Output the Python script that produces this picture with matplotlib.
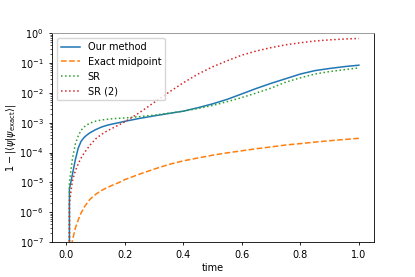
import numpy as np
import matplotlib
matplotlib.use("Agg")
import matplotlib.pyplot as plt

# values
time = [0, 0.01, 0.02, 0.03, 0.04, 0.05, 0.06, 0.07, 0.08, 0.1, 0.12, 0.14, 0.16, 0.18,
        0.2, 0.25, 0.3, 0.35, 0.4, 0.45, 0.5, 0.55, 0.6, 0.65, 0.7, 0.75, 0.8, 0.85,
        0.9, 0.95, 1.0]

our_method = [0, 6e-6, 1.8e-5, 5.6e-5, 1.4e-4, 2.4e-4, 3.2e-4, 3.9e-4, 4.6e-4, 5.9e-4,
              7.2e-4, 8.3e-4, 9.2e-4, 1.01e-3, 1.12e-3, 1.4e-3, 1.7e-3, 2.05e-3, 2.45e-3,
              3.2e-3, 4.3e-3, 6.1e-3, 9.3e-3, 1.42e-2, 2.1e-2, 3.0e-2, 4.3e-2, 5.6e-2,
              6.6e-2, 7.6e-2, 8.5e-2]

exact_midpoint = [0, 2e-8, 1.1e-7, 2.9e-7, 5.5e-7, 9.5e-7, 1.45e-6, 2.0e-6, 2.7e-6, 4.0e-6,
                  5.4e-6, 6.8e-6, 8.3e-6, 1.0e-5, 1.25e-5, 1.9e-5, 2.8e-5, 4e-5, 5.3e-5,
                  6.6e-5, 8.2e-5, 9.8e-5, 1.15e-4, 1.35e-4, 1.55e-4, 1.8e-4, 2.0e-4,
                  2.25e-4, 2.5e-4, 2.75e-4, 3.0e-4]

sr = [0, 1e-5, 6e-5, 1.9e-4, 3.6e-4, 5.6e-4, 7.2e-4, 8.5e-4, 9.7e-4, 1.13e-3, 1.24e-3,
      1.31e-3, 1.37e-3, 1.41e-3, 1.45e-3, 1.6e-3, 1.8e-3, 2.1e-3, 2.45e-3, 3.0e-3,
      3.8e-3, 5.1e-3, 7.0e-3, 1.0e-2, 1.45e-2, 2.3e-2, 3.2e-2, 4.3e-2, 5.2e-2, 6.0e-2,
      6.9e-2]

sr2 = [0, 2e-6, 1.1e-5, 2.4e-5, 4.2e-5, 6.6e-5, 9.5e-5, 1.3e-4, 1.75e-4, 2.9e-4, 4.1e-4,
       5.4e-4, 6.8e-4, 8.5e-4, 1.08e-3, 2.2e-3, 4.8e-3, 1.05e-2, 2.2e-2, 4.3e-2, 7.5e-2,
       1.2e-1, 1.85e-1, 2.55e-1, 3.3e-1, 4.1e-1, 4.8e-1, 5.5e-1, 6.0e-1, 6.4e-1, 6.7e-1]

plt.rcParams["font.size"] = 7
plt.rcParams["axes.linewidth"] = 0.6
plt.rcParams["xtick.major.width"] = 0.6
plt.rcParams["ytick.major.width"] = 0.6
plt.rcParams["ytick.minor.width"] = 0.45
plt.rcParams["xtick.major.size"] = 2.5
plt.rcParams["ytick.major.size"] = 2.5
plt.rcParams["ytick.minor.size"] = 1.5

fig, ax = plt.subplots(figsize=(4.15, 2.77), dpi=100)
fig.subplots_adjust(left=0.125, right=0.9, top=0.88, bottom=0.126)

ax.plot(time, our_method, "-", lw=1.1, label="Our method")
ax.plot(time, exact_midpoint, "--", lw=1.1, label="Exact midpoint")
ax.plot(time, sr, ":", lw=1.1, label="SR")
ax.plot(time, sr2, ":", lw=1.1, label="SR (2)")

ax.set_yscale("log")
ax.set_ylim(1e-7, 1e0)
ax.set_xlabel("time", labelpad=2)
ax.set_ylabel(r"$1-|\langle\psi|\psi_{\rm exact}\rangle|$", labelpad=1)
ax.spines["top"].set_color("0.55")
ax.legend(loc="upper left")

fig.savefig("out.png", dpi=100)
